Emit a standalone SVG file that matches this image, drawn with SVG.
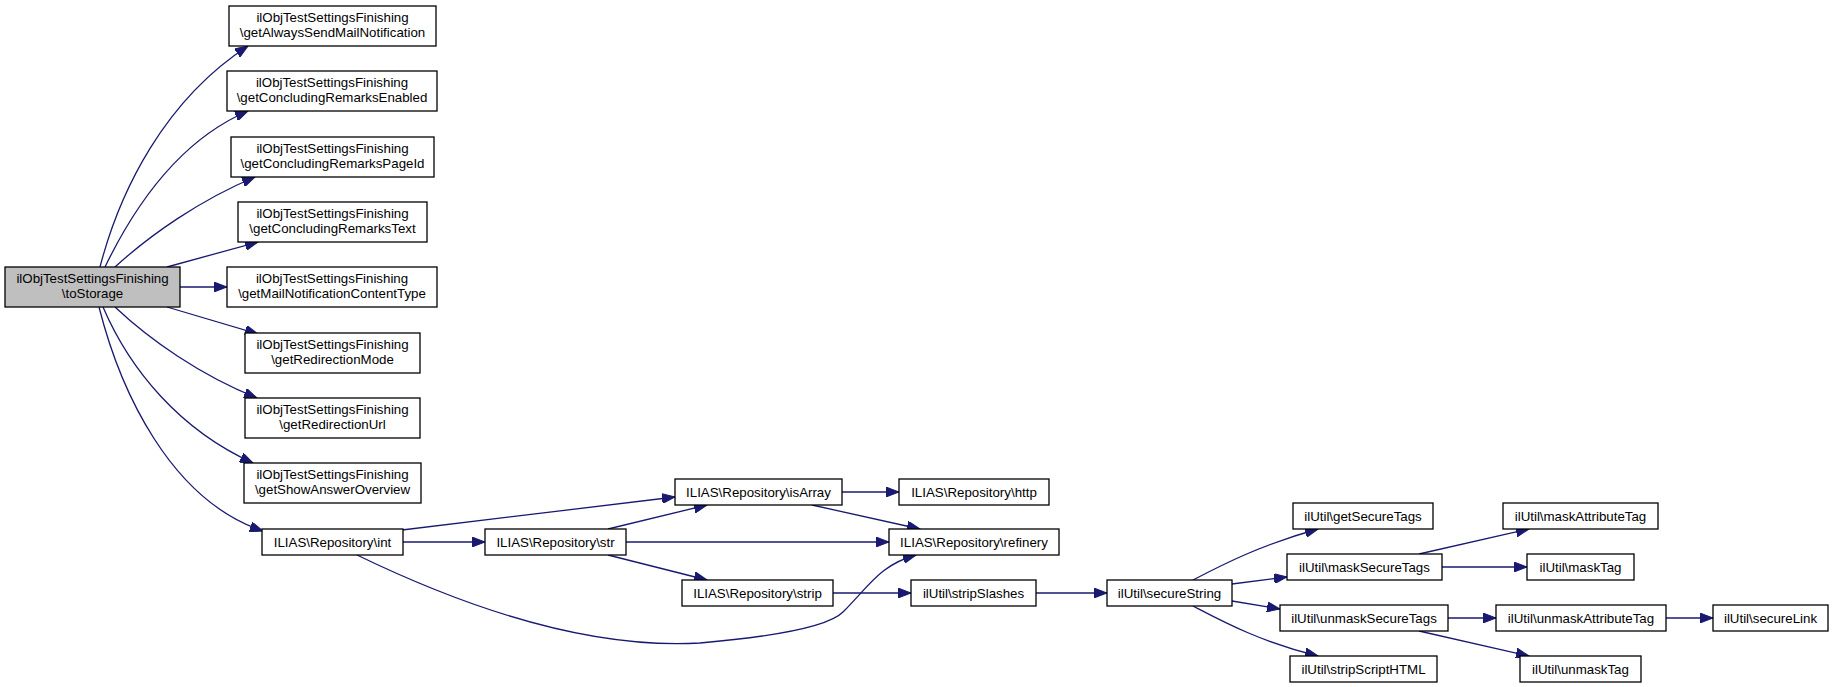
<svg xmlns="http://www.w3.org/2000/svg" width="1833" height="687" viewBox="0 0 1833 687">
<style>
.node rect{fill:#ffffff;stroke:#000000;stroke-width:1.3}
.node text{font-family:"Liberation Sans",Arial,Helvetica,sans-serif;font-size:13.3px;fill:#000000;text-anchor:middle}
.root rect{fill:#bfbfbf}
.edges path{fill:none;stroke:#191970;stroke-width:1.3;marker-end:url(#arr)}
</style>
<defs>
<marker id="arr" markerUnits="userSpaceOnUse" markerWidth="14" markerHeight="10" refX="13" refY="5" orient="auto">
<path d="M0,0 L13,5 L0,10 z" fill="#191970" stroke="#191970" stroke-width="1"/>
</marker>
</defs>
<rect width="1833" height="687" fill="#ffffff"/>
<g id="edges" class="edges">
<path d="M100,267 C120,190 165,100 248,46"/>
<path d="M105,267 C135,205 180,140 248,111"/>
<path d="M115,267 C150,235 200,200 255,177"/>
<path d="M167,267 L258,242"/>
<path d="M180,287 L227,287"/>
<path d="M167,307 L258,334"/>
<path d="M115,307 C150,340 200,375 257,398"/>
<path d="M103,307 C130,370 180,430 253,463"/>
<path d="M99,307 C120,390 170,500 263,531"/>
<path d="M402,530 L675,497"/>
<path d="M403,542 L485,542"/>
<path d="M357,555 C450,600 580,650 700,643 C780,636 830,625 843,612 C870,585 880,565 916,555"/>
<path d="M608,529 L707,505"/>
<path d="M626,542 L889,542"/>
<path d="M608,555 L707,580"/>
<path d="M842,492 L899,492"/>
<path d="M812,505 L920,529"/>
<path d="M833,593 L911,593"/>
<path d="M1036,593 L1107,593"/>
<path d="M1193,580 C1220,566 1260,545 1318,529"/>
<path d="M1232,584 L1287,577"/>
<path d="M1232,601 L1280,609"/>
<path d="M1193,606 C1220,620 1260,642 1318,656"/>
<path d="M1419,554 L1529,529"/>
<path d="M1442,567 L1527,567"/>
<path d="M1448,618 L1496,618"/>
<path d="M1419,631 L1529,656"/>
<path d="M1666,618 L1713,618"/>
</g>
<g id="n0" class="node root"><rect x="5" y="267" width="175" height="40"/><text x="92.5" y="283">ilObjTestSettingsFinishing</text><text x="92.5" y="298">\toStorage</text></g>
<g id="n1" class="node"><rect x="229" y="6" width="207" height="40"/><text x="332.5" y="22">ilObjTestSettingsFinishing</text><text x="332.5" y="37">\getAlwaysSendMailNotification</text></g>
<g id="n2" class="node"><rect x="227" y="71" width="210" height="40"/><text x="332" y="87">ilObjTestSettingsFinishing</text><text x="332" y="102">\getConcludingRemarksEnabled</text></g>
<g id="n3" class="node"><rect x="231" y="137" width="203" height="40"/><text x="332.5" y="153">ilObjTestSettingsFinishing</text><text x="332.5" y="168">\getConcludingRemarksPageId</text></g>
<g id="n4" class="node"><rect x="238" y="202" width="189" height="40"/><text x="332.5" y="218">ilObjTestSettingsFinishing</text><text x="332.5" y="233">\getConcludingRemarksText</text></g>
<g id="n5" class="node"><rect x="227" y="267" width="210" height="40"/><text x="332" y="283">ilObjTestSettingsFinishing</text><text x="332" y="298">\getMailNotificationContentType</text></g>
<g id="n6" class="node"><rect x="245" y="333" width="175" height="40"/><text x="332.5" y="349">ilObjTestSettingsFinishing</text><text x="332.5" y="364">\getRedirectionMode</text></g>
<g id="n7" class="node"><rect x="245" y="398" width="175" height="40"/><text x="332.5" y="414">ilObjTestSettingsFinishing</text><text x="332.5" y="429">\getRedirectionUrl</text></g>
<g id="n8" class="node"><rect x="244" y="463" width="177" height="40"/><text x="332.5" y="479">ilObjTestSettingsFinishing</text><text x="332.5" y="494">\getShowAnswerOverview</text></g>
<g id="n9" class="node"><rect x="262" y="529" width="141" height="26"/><text x="332.5" y="546.5">ILIAS\Repository\int</text></g>
<g id="n10" class="node"><rect x="485" y="529" width="141" height="26"/><text x="555.5" y="546.5">ILIAS\Repository\str</text></g>
<g id="n11" class="node"><rect x="675" y="479" width="167" height="26"/><text x="758.5" y="496.5">ILIAS\Repository\isArray</text></g>
<g id="n12" class="node"><rect x="899" y="479" width="150" height="26"/><text x="974" y="496.5">ILIAS\Repository\http</text></g>
<g id="n13" class="node"><rect x="889" y="529" width="170" height="26"/><text x="974" y="546.5">ILIAS\Repository\refinery</text></g>
<g id="n14" class="node"><rect x="682" y="580" width="151" height="26"/><text x="757.5" y="597.5">ILIAS\Repository\strip</text></g>
<g id="n15" class="node"><rect x="911" y="580" width="125" height="26"/><text x="973.5" y="597.5">ilUtil\stripSlashes</text></g>
<g id="n16" class="node"><rect x="1107" y="580" width="125" height="26"/><text x="1169.5" y="597.5">ilUtil\secureString</text></g>
<g id="n17" class="node"><rect x="1293" y="503" width="140" height="26"/><text x="1363" y="520.5">ilUtil\getSecureTags</text></g>
<g id="n18" class="node"><rect x="1287" y="554" width="155" height="26"/><text x="1364.5" y="571.5">ilUtil\maskSecureTags</text></g>
<g id="n19" class="node"><rect x="1280" y="605" width="168" height="26"/><text x="1364" y="622.5">ilUtil\unmaskSecureTags</text></g>
<g id="n20" class="node"><rect x="1290" y="656" width="147" height="26"/><text x="1363.5" y="673.5">ilUtil\stripScriptHTML</text></g>
<g id="n21" class="node"><rect x="1503" y="503" width="155" height="26"/><text x="1580.5" y="520.5">ilUtil\maskAttributeTag</text></g>
<g id="n22" class="node"><rect x="1527" y="554" width="107" height="26"/><text x="1580.5" y="571.5">ilUtil\maskTag</text></g>
<g id="n23" class="node"><rect x="1496" y="605" width="170" height="26"/><text x="1581" y="622.5">ilUtil\unmaskAttributeTag</text></g>
<g id="n24" class="node"><rect x="1520" y="656" width="121" height="26"/><text x="1580.5" y="673.5">ilUtil\unmaskTag</text></g>
<g id="n25" class="node"><rect x="1713" y="605" width="115" height="26"/><text x="1770.5" y="622.5">ilUtil\secureLink</text></g>
</svg>
